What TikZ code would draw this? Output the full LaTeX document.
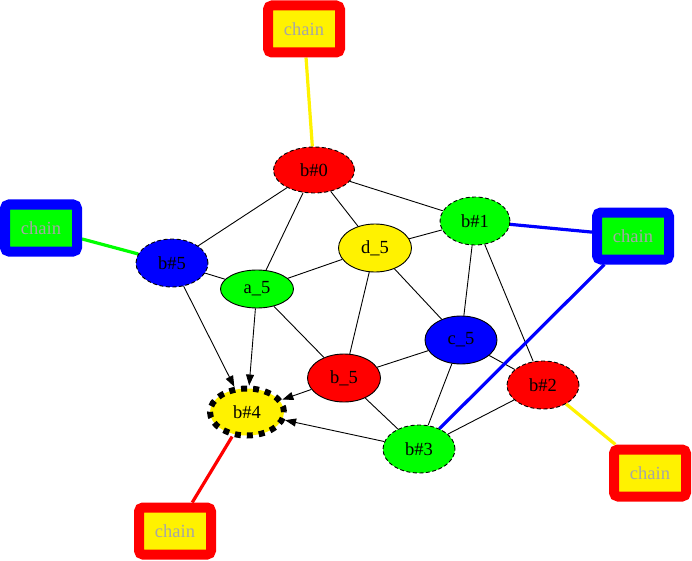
\documentclass[tikz,border=0pt]{standalone}
\usepackage{fontspec}
\setmainfont{Liberation Serif}
\usetikzlibrary{arrows.meta,backgrounds,shapes.geometric}
\tikzset{
  x=1pt,y=-1pt,
  gnode/.style={ellipse,draw=black,line width=0.9pt,inner sep=0pt,
    minimum width=72pt,minimum height=48pt,
    font=\fontsize{18.5}{20}\selectfont},
  thindash/.style={dash pattern=on 4pt off 2.5pt},
  chainbox/.style={rectangle,rounded corners=4pt,line width=10pt,
    minimum width=72pt,minimum height=47pt,inner sep=0pt,
    text=black!35,font=\fontsize{18.5}{20}\selectfont},
  edge/.style={draw=black,line width=0.9pt},
  arr/.style={edge,-{Triangle[length=11pt,width=8pt]}},
  cedge/.style={line width=3.2pt},
}
\begin{document}
\begin{tikzpicture}
\useasboundingbox (0,0) rectangle (692,561);
% nodes
\node[gnode,fill=red,thindash,minimum width=81pt,minimum height=46pt] (b0) at (314,170) {b\#0};
\node[gnode,fill=green,thindash,minimum width=70pt] (b1) at (475,221) {b\#1};
\node[gnode,fill=blue,thindash] (b5) at (172,263) {b\#5};
\node[gnode,fill=green,minimum width=73pt,minimum height=38pt] (a5) at (257,289) {a\_5};
\node[gnode,fill=yellow,minimum width=73pt] (d5) at (375,248) {d\_5};
\node[gnode,fill=blue] (c5) at (461,340) {c\_5};
\node[gnode,fill=red,minimum width=73pt] (b_5) at (344,378) {b\_5};
\node[gnode,fill=red,thindash] (b2) at (543,385) {b\#2};
\node[gnode,fill=yellow,line width=6pt,dash pattern=on 6pt off 6pt,minimum width=74pt,minimum height=47pt] (b4) at (247,412) {b\#4};
\node[gnode,fill=green,thindash] (b3) at (419,449) {b\#3};
% chains
\node[chainbox,draw=red,fill=yellow] (ct) at (304,29) {chain};
\node[chainbox,draw=blue,fill=green] (cl) at (41,228) {chain};
\node[chainbox,draw=blue,fill=green] (cr) at (633,236) {chain};
\node[chainbox,draw=red,fill=yellow] (cbl) at (175,531) {chain};
\node[chainbox,draw=red,fill=yellow] (cbr) at (650,473) {chain};
\begin{scope}[on background layer]
\draw[edge] (b0) -- (b5);
\draw[edge] (b0) -- (a5);
\draw[edge] (b0) -- (d5);
\draw[edge] (b0) -- (b1);
\draw[edge] (b5) -- (a5);
\draw[edge] (a5) -- (d5);
\draw[edge] (a5) -- (b_5);
\draw[edge] (d5) -- (b1);
\draw[edge] (d5) -- (b_5);
\draw[edge] (d5) -- (c5);
\draw[edge] (b1) -- (c5);
\draw[edge] (b1) -- (b2);
\draw[edge] (c5) -- (b_5);
\draw[edge] (c5) -- (b3);
\draw[edge] (c5) -- (b2);
\draw[edge] (b_5) -- (b3);
\draw[edge] (b2) -- (b3);
\draw[arr] (b5) -- (b4);
\draw[arr] (a5) -- (b4);
\draw[arr] (b_5) -- (b4);
\draw[arr] (b3) -- (b4);
\draw[cedge,yellow] (b0) -- (ct);
\draw[cedge,green] (b5) -- (cl);
\draw[cedge,blue] (b1) -- (cr);
\draw[cedge,blue] (b3) -- (cr);
\draw[cedge,yellow] (b2) -- (cbr);
\draw[cedge,red] (b4) -- (cbl);
\end{scope}
\end{tikzpicture}
\end{document}
